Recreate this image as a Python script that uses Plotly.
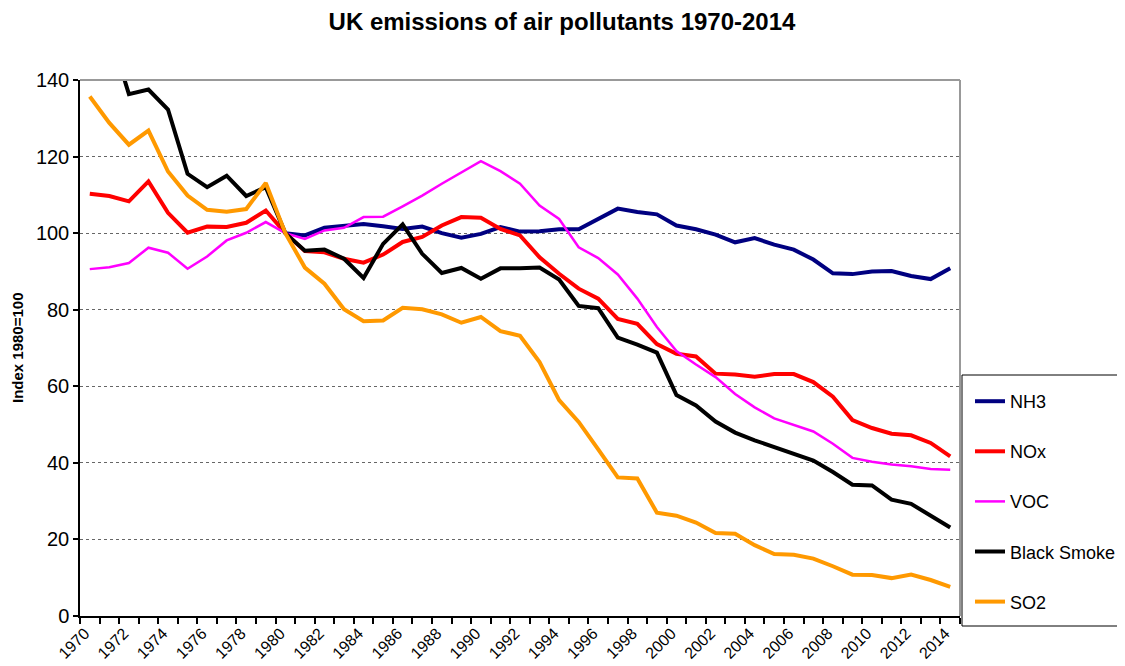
import plotly.graph_objects as go

years = list(range(1970, 2015))

nh3 = [None] * 10 + [
    100.0, 99.4, 101.4, 101.8, 102.4, 101.8, 101.1, 101.7, 100.0, 98.8,
    99.8, 101.6, 100.4, 100.5, 101.0, 101.0, 103.8, 106.4, 105.5, 104.9,
    102.0, 101.0, 99.6, 97.6, 98.7, 97.0, 95.7, 93.1, 89.5, 89.3,
    90.0, 90.1, 88.8, 88.0, 90.8]

nox = [110.3, 109.7, 108.3, 113.5, 105.3, 100.1, 101.7, 101.6, 102.7, 105.9,
       100.0, 95.3, 95.0, 93.3, 92.3, 94.4, 97.7, 99.0, 102.0, 104.2,
       104.0, 101.1, 99.4, 93.7, 89.4, 85.5, 82.9, 77.6, 76.3, 71.0,
       68.5, 67.8, 63.3, 63.1, 62.5, 63.2, 63.2, 61.1, 57.3, 51.2,
       49.1, 47.6, 47.2, 45.2, 41.7]

voc = [90.6, 91.1, 92.2, 96.2, 94.9, 90.7, 93.9, 98.1, 100.1, 102.9,
       100.0, 98.5, 100.7, 101.4, 104.2, 104.3, 107.0, 109.8, 112.9, 115.9,
       118.8, 116.2, 112.9, 107.2, 103.7, 96.3, 93.5, 89.2, 82.9, 75.5,
       69.2, 65.7, 62.4, 58.0, 54.5, 51.6, 49.8, 48.2, 45.0, 41.3,
       40.3, 39.6, 39.1, 38.4, 38.2]

black_smoke = [158.0, 153.0, 136.3, 137.5, 132.3, 115.5, 112.0, 115.0, 109.7, 112.0,
               100.0, 95.4, 95.7, 93.3, 88.3, 97.2, 102.3, 94.6, 89.6, 90.9,
               88.1, 90.8, 90.8, 91.0, 87.9, 81.0, 80.4, 72.7, 70.9, 68.8,
               57.7, 55.0, 50.8, 47.9, 45.9, 44.1, 42.2, 40.6, 37.6, 34.3,
               34.1, 30.4, 29.3, 26.2, 23.1]

so2 = [135.7, 128.8, 123.1, 126.8, 116.1, 109.8, 106.1, 105.6, 106.3, 113.1,
       100.0, 91.0, 86.8, 80.1, 77.0, 77.2, 80.5, 80.1, 78.8, 76.6,
       78.1, 74.4, 73.2, 66.3, 56.4, 50.7, 43.5, 36.2, 35.9, 27.0,
       26.2, 24.4, 21.7, 21.5, 18.5, 16.2, 16.0, 15.0, 13.0, 10.8,
       10.7, 9.9, 10.8, 9.4, 7.6]

x_tick_labels = [str(y) for y in range(1970, 2015, 2)]

series = [
    ("NH3", nh3, "#000080", 4),
    ("NOx", nox, "#FF0000", 4),
    ("VOC", voc, "#FF00FF", 2.5),
    ("Black Smoke", black_smoke, "#000000", 4),
    ("SO2", so2, "#FF9900", 4),
]

FONT = "Liberation Sans, Arial, sans-serif"
W, H = 1117, 658  # page body has an 8px margin

fig = go.Figure()
for name, vals, color, w in series:
    fig.add_trace(go.Scatter(
        x=years, y=vals, name=name, mode="lines",
        line=dict(color=color, width=w),
        legendgroup=name, connectgaps=False,
    ))

fig.update_layout(
    width=W, height=H,
    margin=dict(l=72, r=165, t=72, b=50, autoexpand=False),
    paper_bgcolor="white", plot_bgcolor="white",
    font=dict(family=FONT, color="black"),
    title=dict(text="<b>UK emissions of air pollutants 1970-2014</b>",
               x=554 / W, xref="container", xanchor="center",
               y=1 - 5 / H, yref="container", yanchor="top", pad=dict(t=0, b=0),
               font=dict(size=24, family=FONT, color="black")),
    showlegend=True,
    legend=dict(x=(970 - 80) / 880, xanchor="left", y=0.4347, yanchor="top",
                borderwidth=0, bgcolor="rgba(0,0,0,0)",
                font=dict(size=18, family=FONT), tracegroupgap=23.7,
                traceorder="grouped"),
)

fig.update_xaxes(
    range=[1969.5, 2014.5],
    tickmode="array", tickvals=list(range(1970, 2015, 2)), ticktext=x_tick_labels,
    tickangle=-45, ticks="", tickfont=dict(size=16, family=FONT),
    ticklabelshift=-5,
    showgrid=False, showline=True, linecolor="black", linewidth=1.5,
    zeroline=False,
    minor=dict(tickmode="linear", tick0=1969.5, dtick=1, ticks="outside",
               ticklen=6, tickcolor="black", tickwidth=1.5, showgrid=False),
)

fig.update_yaxes(
    range=[0, 140], tickmode="linear", tick0=0, dtick=20,
    ticks="outside", ticklen=5, tickcolor="black", tickwidth=1.5,
    tickfont=dict(size=20, family=FONT),
    showgrid=True, gridcolor="#666666", griddash="dot", gridwidth=1,
    showline=True, linecolor="black", linewidth=1.5, zeroline=False,
)

fig.add_annotation(text="<b>Index 1980=100</b>", xref="paper", yref="paper",
                   x=(17 - 80) / 880, y=0.5, textangle=-90, showarrow=False,
                   xanchor="center", yanchor="middle",
                   font=dict(size=15, family=FONT, color="black"))

# grey plot-area border on top and right
fig.add_shape(type="line", xref="paper", yref="paper", x0=0, x1=1, y0=1, y1=1,
              line=dict(color="#999999", width=2))
fig.add_shape(type="line", xref="paper", yref="paper", x0=1, x1=1, y0=0, y1=1,
              line=dict(color="#999999", width=2))
# legend frame
fig.add_shape(type="rect", xref="paper", yref="paper",
              x0=(962 - 80) / 880, x1=1.3, y0=(616 - 626) / 536, y1=(616 - 375) / 536,
              line=dict(color="black", width=1), fillcolor="rgba(0,0,0,0)")

fig.write_html("out.html")
